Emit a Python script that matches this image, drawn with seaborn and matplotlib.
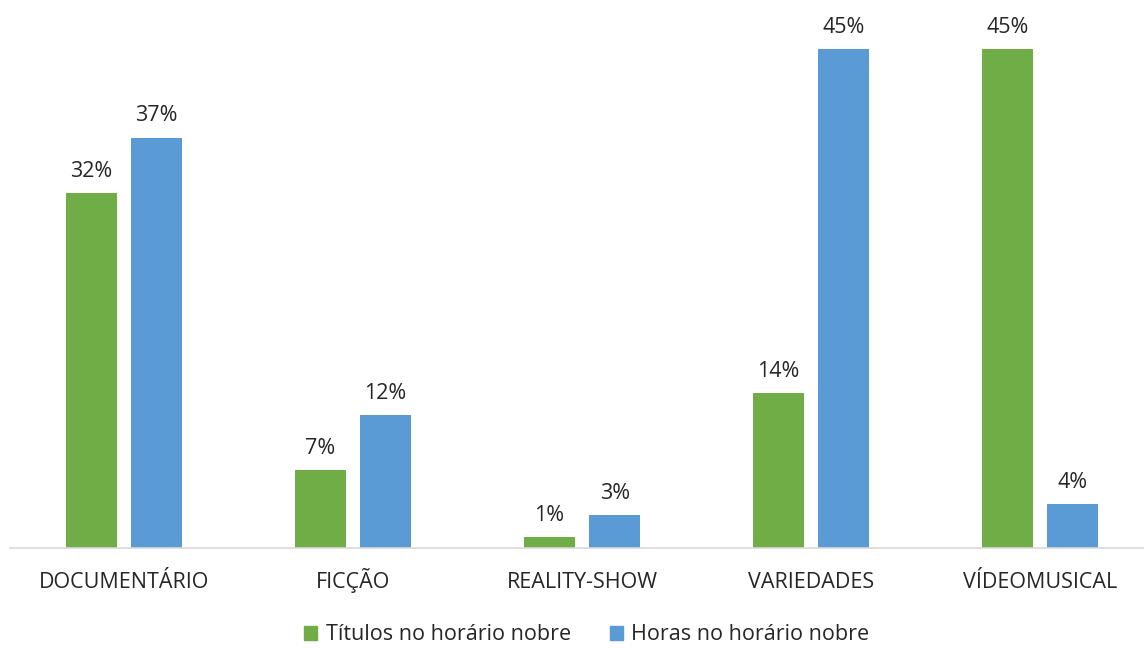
import matplotlib
matplotlib.use("Agg")
import matplotlib.pyplot as plt
import seaborn as sns
import pandas as pd

categories = ["DOCUMENTÁRIO", "FICÇÃO", "REALITY-SHOW", "VARIEDADES", "VÍDEOMUSICAL"]
series_names = ["Títulos no horário nobre", "Horas no horário nobre"]
titulos = [32, 7, 1, 14, 45]
horas = [37, 12, 3, 45, 4]
colors = ["#70AD47", "#5B9BD5"]

df = pd.DataFrame({
    "categoria": categories * 2,
    "serie": [series_names[0]] * len(categories) + [series_names[1]] * len(categories),
    "valor": titulos + horas,
})

sns.set_theme(style="white")
plt.rcParams["font.family"] = ["Open Sans", "DejaVu Sans"]

fig = plt.figure(figsize=(11.44, 6.48), dpi=100)
ax = fig.add_axes([9.5 / 1144, 1 - 548 / 648, 1 - 9.5 / 1144, 548 / 648])

sns.barplot(data=df, x="categoria", y="valor", hue="serie", order=categories,
            hue_order=series_names, palette=colors, width=0.57, gap=0.22,
            saturation=1, linewidth=0, ax=ax, legend=False)

for container in ax.containers:
    ax.bar_label(container, labels=[f"{v:.0f}%" for v in container.datavalues],
                 padding=8, fontsize=15.5, color="#262626")

ax.set_xlim(-0.5, 4.454)
ax.set_ylim(0, 49.4)
ax.set_xlabel("")
ax.set_ylabel("")
ax.set_yticks([])
for side in ["top", "right", "left"]:
    ax.spines[side].set_visible(False)
ax.spines["bottom"].set_color("#D9D9D9")
ax.spines["bottom"].set_linewidth(1.2)
ax.tick_params(axis="x", length=0, pad=29, labelsize=15.5, labelcolor="#262626")
for lbl in ax.get_xticklabels():
    lbl.set_verticalalignment("baseline")

handles = [plt.Rectangle((0, 0), 1, 1, color=c) for c in colors]
fig.legend(handles, series_names, loc="center", bbox_to_anchor=(587 / 1144, 1 - 635 / 648),
           ncol=2, frameon=False, fontsize=15.5, handlelength=0.6, handleheight=0.6,
           handletextpad=0.4, columnspacing=1.8, labelcolor="#262626")

fig.savefig("out.png", dpi=100)
